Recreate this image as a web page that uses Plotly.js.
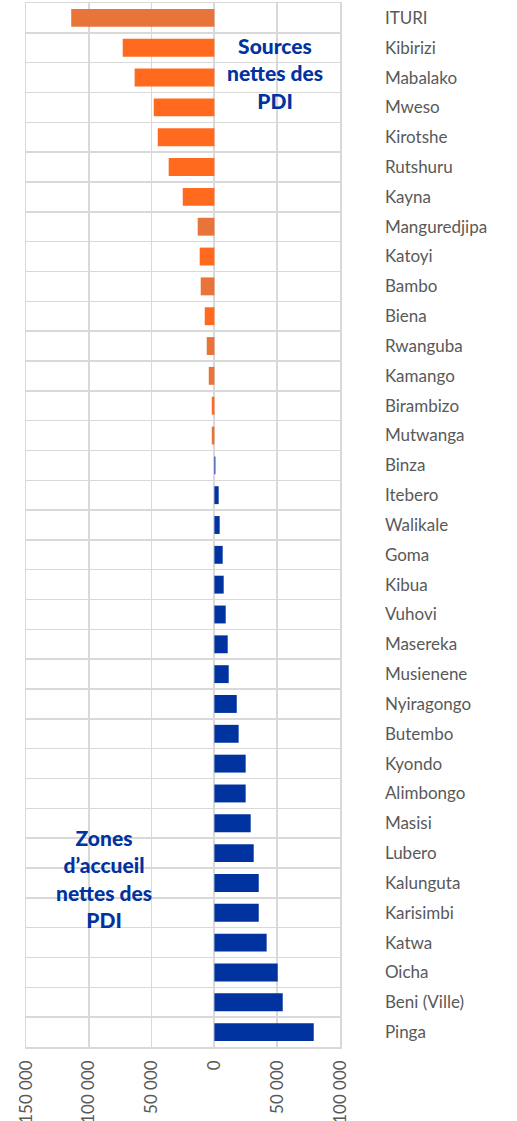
<!DOCTYPE html>
<html>
<head>
<meta charset="utf-8">
<script src="https://cdn.plot.ly/plotly-3.0.1.min.js"></script>
<style>
  html, body { margin: 0; padding: 0; background: #fff; }
  #chart { width: 517px; height: 1121px; }
</style>
</head>
<body>
<div id="chart"></div>
<script>
// Zones de santé (top to bottom)
const zones = [
  "ITURI", "Kibirizi", "Mabalako", "Mweso", "Kirotshe", "Rutshuru", "Kayna",
  "Manguredjipa", "Katoyi", "Bambo", "Biena", "Rwanguba", "Kamango", "Birambizo",
  "Mutwanga", "Binza", "Itebero", "Walikale", "Goma", "Kibua", "Vuhovi",
  "Masereka", "Musienene", "Nyiragongo", "Butembo", "Kyondo", "Alimbongo",
  "Masisi", "Lubero", "Kalunguta", "Karisimbi", "Katwa", "Oicha", "Beni (Ville)", "Pinga"
];
// Net IDP balance (negative = net source, positive = net host)
const netPDI = [
  -114000, -73000, -63500, -48300, -45100, -36400, -25200,
  -13300, -11700, -10900, -7700, -6100, -4500, -2100,
  -2100, 800, 3400, 4200, 6600, 7400, 9000,
  10600, 11400, 17800, 19300, 24900, 24900,
  28900, 31300, 35300, 35300, 41600, 50400, 54400, 79100
];
// Bar shade group (0 = muted orange, 1 = bright orange; positives are blue)
const shade = [0,1,1,1,1,1,1, 0,1,0,1,0,0,1, 0];
// X axis ticks
const xTickVals = [-150000, -100000, -50000, 0, 50000, 100000];
const xTickText = ["150 000", "100 000", "50 000", "0", "50 000", "100 000"];

const ORANGE_MUTED = "#E87439";
const ORANGE_BRIGHT = "#FF6A1F";
const BLUE = "#0033A0";

const idx = zones.map((_, i) => i);
const colors = netPDI.map((v, i) => v < 0 ? (shade[i] === 0 ? ORANGE_MUTED : ORANGE_BRIGHT) : BLUE);

const trace = {
  type: "bar",
  orientation: "h",
  x: netPDI,
  y: idx,
  marker: { color: colors, line: { width: 0 } },
  hoverinfo: "skip"
};

const n = zones.length;
const font = "Lato, 'Open Sans', 'DejaVu Sans', sans-serif";

const layout = {
  width: 517,
  height: 1121,
  margin: { l: 26, r: 177, t: 3, b: 74 },
  paper_bgcolor: "#fff",
  plot_bgcolor: "#fff",
  showlegend: false,
  bargap: 0.4,
  font: { family: font, color: "#595959", size: 17 },
  xaxis: {
    range: [-150000, 100000],
    tickvals: xTickVals,
    ticktext: xTickText,
    tickangle: -90,
    showgrid: true,
    gridcolor: "#d9d9d9",
    gridwidth: 1.5,
    zeroline: true,
    zerolinecolor: "#d9d9d9",
    zerolinewidth: 2,
    showline: true,
    mirror: true,
    linecolor: "#d9d9d9",
    linewidth: 1.5,
    ticks: "",
    ticklabelstandoff: 5,
    tickfont: { family: font, size: 17, color: "#595959" },
    fixedrange: true
  },
  yaxis: {
    type: "linear",
    range: [n - 0.5, -0.5],
    tickvals: idx,
    ticktext: zones,
    side: "right",
    showgrid: false,
    zeroline: false,
    showline: true,
    mirror: true,
    linecolor: "#d9d9d9",
    linewidth: 1.5,
    ticks: "",
    ticklabelstandoff: 40,
    tickfont: { family: font, size: 17, color: "#595959" },
    minor: { tick0: 0.5, dtick: 1, showgrid: true, gridcolor: "#d9d9d9", gridwidth: 1.5, ticks: "" },
    fixedrange: true
  },
  annotations: [
    {
      text: "Sources<br>nettes des<br>PDI",
      xref: "paper", yref: "paper",
      x: (275 - 26) / 314, y: 1 - (73 - 3) / 1044,
      xanchor: "center", yanchor: "middle",
      showarrow: false, align: "center",
      font: { family: font, size: 21, weight: 900, color: BLUE }
    },
    {
      text: "Zones<br>d’accueil<br>nettes des<br>PDI",
      xref: "paper", yref: "paper",
      x: (104 - 26) / 314, y: 1 - (878 - 3) / 1044,
      xanchor: "center", yanchor: "middle",
      showarrow: false, align: "center",
      font: { family: font, size: 21, weight: 900, color: BLUE }
    }
  ]
};

Plotly.newPlot("chart", [trace], layout, { displayModeBar: false, staticPlot: true });
</script>
</body>
</html>
